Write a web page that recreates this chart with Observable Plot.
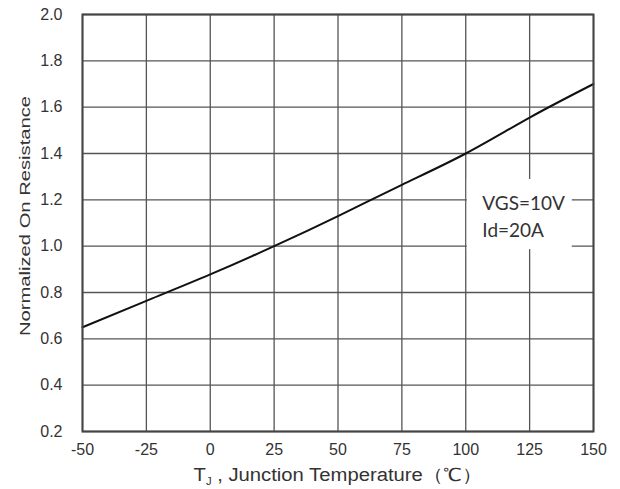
<!DOCTYPE html>
<html><head><meta charset="utf-8">
<script src="https://cdn.jsdelivr.net/npm/d3@7"></script>
<script src="https://cdn.jsdelivr.net/npm/@observablehq/plot@0.6"></script>
<style>body{margin:0;background:#fff}#chart svg{display:block}</style>
</head><body><div id="chart"></div>
<script>
// Data
const temperature = [-50, -25, 0, 25, 50, 75, 100, 125, 150];
const resistance  = [0.65, 0.764, 0.878, 1.0, 1.13, 1.265, 1.40, 1.555, 1.70];
const xTicks = [-50, -25, 0, 25, 50, 75, 100, 125, 150];
const yTicks = [0.2, 0.4, 0.6, 0.8, 1.0, 1.2, 1.4, 1.6, 1.8, 2.0];
const annotationLines = ["VGS=10V", "Id=20A"];
const xLabelMain = "T";
const xLabelSub = "J";
const xLabelRest = " , Junction Temperature（℃）";
const yLabel = "Normalized On Resistance";

const rows = temperature.map((t, i) => ({t, r: resistance[i]}));

// annotation anchors (data units)
const boxX1 = 100.6, boxX2 = 141.7, boxY1 = 0.985, boxY2 = 1.288;
const noteX = 106.5, noteY = 1.135;

const chart = Plot.plot({
  width: 620,
  height: 489,
  marginLeft: 82,
  marginRight: 27,
  marginTop: 14,
  marginBottom: 58,
  style: {fontFamily: "'Liberation Sans', Arial, sans-serif", background: "#fff", color: "#222"},
  x: {domain: [-50, 150]},
  y: {domain: [0.2, 2.0]},
  marks: [
    Plot.gridX(xTicks, {stroke: "#555", strokeOpacity: 1, strokeWidth: 1.3}),
    Plot.gridY(yTicks, {stroke: "#555", strokeOpacity: 1, strokeWidth: 1.3}),
    Plot.rect([{x1: boxX1, x2: boxX2, y1: boxY1, y2: boxY2}], {x1: "x1", x2: "x2", y1: "y1", y2: "y2", fill: "#fff"}),
    Plot.text([annotationLines.join("\n")], {x: noteX, y: noteY, text: d => d, textAnchor: "start", lineAnchor: "middle", lineHeight: 1.45, fontSize: 19, fontFamily: "Lato, 'Open Sans', sans-serif", fill: "#333"}),
    Plot.line(rows, {x: "t", y: "r", curve: "natural", stroke: "#111", strokeWidth: 2}),
    Plot.frame({stroke: "#444", strokeWidth: 2}),
    Plot.axisX(xTicks, {tickSize: 0, tickPadding: 12, fontSize: 16, label: null, tickFormat: d => String(d), fill: "#333"}),
    Plot.axisY(yTicks, {tickSize: 0, tickPadding: 20, fontSize: 16, label: null, tickFormat: d3.format(".1f"), fill: "#333"}),
    Plot.text(["ylabel"], {frameAnchor: "left", text: d => d, rotate: -90, textAnchor: "middle", dx: -57, dy: -7, fontSize: 15, fill: "#333"}),
    Plot.text(["xlabel"], {frameAnchor: "bottom", text: d => d, dy: 49, fontSize: 18, fill: "#333"})
  ]
});

document.getElementById("chart").appendChild(chart);

const svg = d3.select(chart);
// y label, stretched to the reference's length
svg.selectAll("text").filter(function() { return this.textContent === "ylabel"; })
  .text(yLabel).attr("textLength", 240).attr("lengthAdjust", "spacingAndGlyphs");
// x label with subscript J
svg.selectAll("text").filter(function() { return this.textContent === "xlabel"; })
  .each(function() {
    const t = d3.select(this);
    t.text(null);
    t.append("tspan").text(xLabelMain);
    t.append("tspan").attr("dy", 4).attr("font-size", 10).text(xLabelSub);
    t.append("tspan").attr("dy", -4).text(xLabelRest);
    t.attr("textLength", 289).attr("lengthAdjust", "spacingAndGlyphs");
  });
</script>
</body></html>
